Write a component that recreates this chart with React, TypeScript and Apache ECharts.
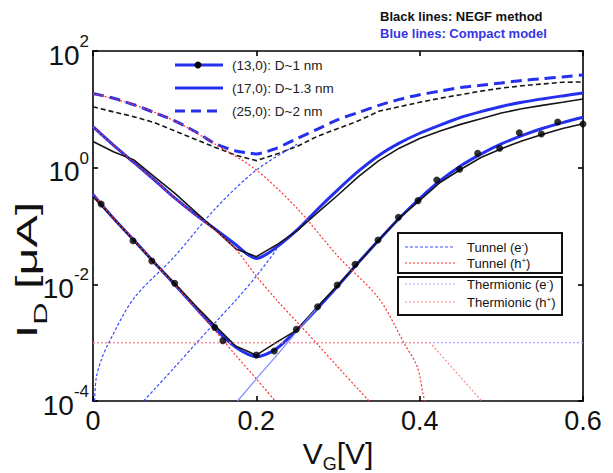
import React, { useEffect, useRef } from 'react';
import * as echarts from 'echarts';

// Gate voltage grid shared by the main curves (V)
const V = [0, 0.025, 0.05, 0.075, 0.1, 0.125, 0.15, 0.175, 0.19, 0.2, 0.21, 0.225, 0.25, 0.275, 0.3, 0.325, 0.35, 0.375, 0.4, 0.425, 0.45, 0.475, 0.5, 0.525, 0.55, 0.575, 0.6];

// Drain current (uA)
const compact13 = [0.348, 0.136, 0.0574, 0.0236, 0.00991, 0.00407, 0.00171, 0.000832, 0.000631, 0.000575, 0.000617, 0.000794, 0.00166, 0.00389, 0.00946, 0.0236, 0.0574, 0.136, 0.296, 0.597, 1.07, 1.71, 2.55, 3.54, 4.69, 5.93, 7.31];
const negf13 = [0.318, 0.136, 0.0561, 0.0236, 0.0104, 0.00437, 0.00192, 0.000867, 0.000703, 0.000611, 0.000752, 0.00102, 0.00166, 0.00417, 0.00968, 0.0236, 0.0574, 0.136, 0.275, 0.557, 0.931, 1.49, 2.11, 2.87, 3.71, 4.69, 5.65];
const compact17 = [5.04, 2.43, 1.23, 0.618, 0.303, 0.159, 0.0875, 0.0476, 0.032, 0.0278, 0.0313, 0.0434, 0.0855, 0.194, 0.421, 0.871, 1.62, 2.63, 3.89, 5.37, 7.24, 9.12, 11.2, 13.2, 15.1, 17.0, 19.1];
const negf17 = [2.8, 1.88, 1.36, 0.703, 0.366, 0.177, 0.0855, 0.0405, 0.0337, 0.0298, 0.036, 0.0476, 0.0836, 0.169, 0.34, 0.703, 1.32, 2.16, 3.16, 4.27, 5.52, 6.9, 8.63, 10.2, 11.7, 13.2, 15.0];
const compact25 = [18.7, 15.5, 12.0, 8.83, 6.35, 4.17, 2.55, 1.93, 1.79, 1.71, 1.84, 2.16, 3.15, 4.58, 6.67, 8.83, 11.7, 14.8, 17.8, 20.5, 23.6, 25.9, 28.4, 31.3, 33.5, 36.0, 38.9];
const negf25 = [11.1, 9.04, 7.48, 5.93, 4.27, 3.08, 2.22, 1.63, 1.44, 1.32, 1.47, 1.71, 2.32, 3.46, 4.69, 6.35, 9.25, 11.1, 13.2, 15.5, 17.8, 20.5, 23.1, 25.3, 27.2, 29.1, 29.5];

// NEGF sample points of the (13,0) tube
const markerV = [0.01, 0.049, 0.072, 0.1, 0.149, 0.159, 0.2, 0.222, 0.249, 0.275, 0.299, 0.321, 0.349, 0.374, 0.398, 0.421, 0.449, 0.471, 0.498, 0.522, 0.549, 0.569, 0.6];
const markerI = [0.238, 0.056, 0.0251, 0.0104, 0.00183, 0.00108, 0.000614, 0.000719, 0.00169, 0.00413, 0.00973, 0.022, 0.0575, 0.141, 0.272, 0.614, 0.938, 1.76, 2.15, 3.97, 3.78, 6.07, 5.6];

// Current components
const tunnelH25V = [0, 0.05, 0.1, 0.15, 0.2, 0.25, 0.3, 0.35, 0.381, 0.397, 0.404, 0.406];
const tunnelH25I = [18.7, 12.0, 6.31, 2.51, 0.912, 0.2, 0.0302, 0.00575, 0.000977, 0.000389, 0.000135, 0.0001];
const tunnelE25V = [0.002, 0.004, 0.01, 0.019, 0.05, 0.1, 0.15, 0.2, 0.25];
const tunnelE25I = [0.0001, 0.000251, 0.000501, 0.000977, 0.00575, 0.0302, 0.2, 0.912, 2.51];
const tunnelH17V = [0, 0.025, 0.05, 0.075, 0.1, 0.125, 0.15, 0.175, 0.2, 0.225, 0.25, 0.275, 0.3, 0.325, 0.338];
const tunnelH17I = [5.01, 2.43, 1.23, 0.618, 0.303, 0.158, 0.0832, 0.0398, 0.0138, 0.00537, 0.00224, 0.000933, 0.00038, 0.000158, 0.0001];
const tunnelE17V = [0.062, 0.075, 0.1, 0.125, 0.15, 0.175, 0.2, 0.225];
const tunnelE17I = [0.0001, 0.000158, 0.00038, 0.000933, 0.00224, 0.00537, 0.0138, 0.0398];
const tunnelH13V = [0, 0.025, 0.05, 0.075, 0.1, 0.125, 0.15, 0.175, 0.2, 0.223];
const tunnelH13I = [0.348, 0.136, 0.0574, 0.0236, 0.00991, 0.00407, 0.00158, 0.000603, 0.00024, 0.0001];
const tunnelE13V = [0.177, 0.2, 0.225, 0.25, 0.275];
const tunnelE13I = [0.0001, 0.00024, 0.000603, 0.00158, 0.00407];
const thermEV = [0, 0.6];
const thermEI = [0.001, 0.001];
const thermHV = [0, 0.4125, 0.476];
const thermHI = [0.001, 0.001, 0.0001];

const xTicks = [0, 0.2, 0.4, 0.6];
const tubeLabels = ['(13,0): D~1 nm', '(17,0): D~1.3 nm', '(25,0): D~2 nm'];
const componentLabels = ['Tunnel (e', 'Tunnel (h', 'Thermionic (e', 'Thermionic (h'];
const componentSigns = ['-', '+', '-', '+'];

const FONT = '"Liberation Sans", Arial, Helvetica, sans-serif';
const BLUE = '#2430ee';
const BLACK = '#161616';
const RED = '#ff3030';
const DBLUE = '#3a4cff';
const LBLUE = '#a4a8ff';
const LRED = '#ff8a8a';
const E13 = '#8088ff';

function pairs(xs: number[], ys: number[]) {
  return xs.map((x, i) => [x, ys[i]]);
}

export default function App() {
  const ref = useRef<HTMLDivElement>(null);
  useEffect(() => {
    const chart = echarts.init(ref.current!, null, { renderer: 'svg' });
    const line = (name: string, xs: number[], ys: number[], color: string, width: number, type: any, z: number, smooth: any = false) => ({
      name, type: 'line', data: pairs(xs, ys), showSymbol: false, symbol: 'none', smooth, z, silent: true,
      lineStyle: { color, width, type },
    });
    const axisLine = { show: true, onZero: false, lineStyle: { color: '#000', width: 1.6 } };
    const axisTick = { show: true, inside: true, length: 5, lineStyle: { color: '#000', width: 1.6 } };

    const lx1 = 175, lx2 = 223, ly = [65, 88, 111];
    const rx1 = 405, rx2 = 455, ry = [247, 263, 284, 302];
    const compStyles = [
      { stroke: DBLUE, lineDash: [3, 2] },
      { stroke: RED, lineDash: [2, 2] },
      { stroke: LBLUE, lineDash: [2, 2] },
      { stroke: LRED, lineDash: [2, 2] },
    ];
    const graphic: any[] = [
      { type: 'text', x: 380, y: 16, z: 100, style: { text: 'Black lines: NEGF method', fontFamily: FONT, fontWeight: 'bold', fontSize: 13, fill: '#111', verticalAlign: 'middle' } },
      { type: 'text', x: 380, y: 33, z: 100, style: { text: 'Blue lines: Compact model', fontFamily: FONT, fontWeight: 'bold', fontSize: 13, fill: '#3636e2', verticalAlign: 'middle' } },
      {
        type: 'text', x: 31, y: 270, rotation: Math.PI / 2, scaleX: 1.62, z: 100,
        style: {
          text: '{m|I}{d|D}{m| [μA]}', align: 'center', verticalAlign: 'middle', fill: '#111',
          rich: {
            m: { fontSize: 30, lineHeight: 38, verticalAlign: 'top', fontFamily: FONT, fill: '#111' },
            d: { fontSize: 19, lineHeight: 38, verticalAlign: 'bottom', fontFamily: FONT, fill: '#111' },
          },
        },
      },
    ];
    tubeLabels.forEach((t, i) => {
      graphic.push({ type: 'line', z: 100, shape: { x1: lx1, y1: ly[i], x2: lx2, y2: ly[i] }, style: { stroke: BLUE, lineWidth: 3, lineDash: i === 2 ? [10, 6] : null } });
      graphic.push({ type: 'text', x: 232, y: ly[i], z: 100, style: { text: t, fontFamily: FONT, fontSize: 13.5, fill: '#222', verticalAlign: 'middle' } });
    });
    graphic.push({ type: 'circle', z: 101, shape: { cx: 198, cy: ly[0], r: 3.5 }, style: { fill: '#000' } });
    graphic.push({ type: 'rect', z: 99, shape: { x: 398, y: 233, width: 164, height: 40 }, style: { fill: '#fff', stroke: '#111', lineWidth: 2 } });
    graphic.push({ type: 'rect', z: 99, shape: { x: 398, y: 277, width: 164, height: 38 }, style: { fill: '#fff', stroke: '#111', lineWidth: 2 } });
    componentLabels.forEach((t, i) => {
      graphic.push({ type: 'line', z: 100, shape: { x1: rx1, y1: ry[i], x2: rx2, y2: ry[i] }, style: { ...compStyles[i], lineWidth: 1.2 } });
      graphic.push({
        type: 'text', x: 467, y: ry[i], z: 100,
        style: {
          text: `{a|${t}}{s|${componentSigns[i]}}{a|)}`, verticalAlign: 'middle',
          rich: {
            a: { fontSize: 13, lineHeight: 14, verticalAlign: 'bottom', fontFamily: FONT, fill: '#111' },
            s: { fontSize: 8, lineHeight: 14, verticalAlign: 'top', fontFamily: FONT, fill: '#111' },
          },
        },
      });
    });

    chart.setOption({
      animation: false,
      grid: { left: 93, right: 30, top: 51, bottom: 72, outerBoundsMode: 'none' },
      xAxis: [
        {
          type: 'value', min: xTicks[0], max: xTicks[xTicks.length - 1], interval: 0.2, position: 'bottom',
          axisLine, axisTick, splitLine: { show: false },
          axisLabel: { margin: 6, fontSize: 27, color: '#111', fontFamily: FONT, formatter: (v: number) => (v === 0 ? '0' : v.toFixed(1)) },
          name: '{v|V}{g|G}{v|[V]}', nameLocation: 'middle', nameGap: 14,
          nameTextStyle: {
            rich: {
              v: { fontSize: 30, lineHeight: 34, verticalAlign: 'top', fontFamily: FONT, color: '#111' },
              g: { fontSize: 18, lineHeight: 34, verticalAlign: 'bottom', fontFamily: FONT, color: '#111' },
            },
          },
        },
        {
          type: 'value', min: 0, max: 0.6, interval: 0.2, position: 'top',
          axisLine, axisTick, splitLine: { show: false }, axisLabel: { show: false },
        },
      ],
      yAxis: [
        {
          type: 'log', logBase: 100, min: 1e-4, max: 100, position: 'left',
          axisLine, axisTick, splitLine: { show: false }, minorTick: { show: false },
          axisLabel: {
            margin: 4,
            formatter: (v: number) => `{b|10}{s|${Math.round(Math.log10(v))}}`,
            rich: {
              b: { fontSize: 28, lineHeight: 36, verticalAlign: 'bottom', fontFamily: FONT, color: '#111' },
              s: { fontSize: 17, lineHeight: 36, verticalAlign: 'top', fontFamily: FONT, color: '#111' },
            },
          },
        },
        {
          type: 'log', logBase: 100, min: 1e-4, max: 100, position: 'right',
          axisLine, axisTick, splitLine: { show: false }, axisLabel: { show: false },
        },
      ],
      series: [
        line('Compact (25,0)', V, compact25, BLUE, 3, [11, 6], 2, 0.25),
        line('Compact (17,0)', V, compact17, BLUE, 3, 'solid', 2, 0.25),
        line('Compact (13,0)', V, compact13, BLUE, 3, 'solid', 2, 0.25),
        line('NEGF (25,0)', V, negf25, BLACK, 1.6, [5, 3], 3),
        line('NEGF (17,0)', V, negf17, BLACK, 1.6, 'solid', 3),
        line('NEGF (13,0)', V, negf13, BLACK, 1.6, 'solid', 3),
        line('Thermionic (e-)', thermEV, thermEI, LBLUE, 1.2, [2, 2], 4),
        line('Thermionic (h+)', thermHV, thermHI, LRED, 1.2, [2, 2], 4),
        line('Tunnel (e-) 25', tunnelE25V, tunnelE25I, DBLUE, 1.2, [3, 2], 4, 0.3),
        line('Tunnel (e-) 17', tunnelE17V, tunnelE17I, DBLUE, 1.2, [3, 2], 4, 0.3),
        line('Tunnel (e-) 13', tunnelE13V, tunnelE13I, E13, 1.2, 'solid', 4, 0.3),
        line('Tunnel (h+) 25', tunnelH25V, tunnelH25I, RED, 1.2, [2, 2], 4, 0.3),
        line('Tunnel (h+) 17', tunnelH17V, tunnelH17I, RED, 1.2, [2, 2], 4, 0.3),
        line('Tunnel (h+) 13', tunnelH13V, tunnelH13I, RED, 1.2, [2, 2], 4, 0.3),
        {
          name: 'NEGF points (13,0)', type: 'scatter', data: pairs(markerV, markerI), symbol: 'circle', symbolSize: 7,
          itemStyle: { color: '#000' }, z: 5, silent: true,
        },
      ],
      graphic,
    });
    return () => chart.dispose();
  }, []);
  return <div ref={ref} style={{ position: 'absolute', left: 0, top: 0, width: 613, height: 473 }} />;
}
